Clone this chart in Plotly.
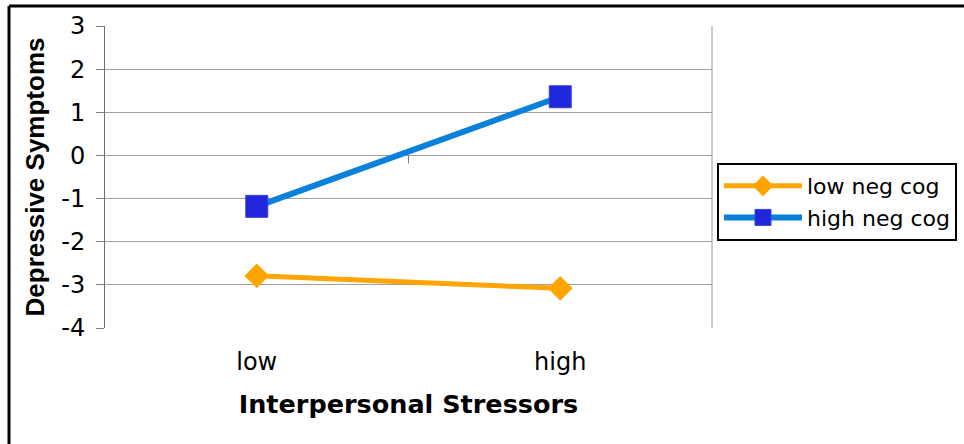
import plotly.graph_objects as go

# Category axis and the two moderator groups
stressors = ["low", "high"]
low_neg_cog = [-2.79, -3.08]
high_neg_cog = [-1.18, 1.36]
y_ticks = [3, 2, 1, 0, -1, -2, -3, -4]

FONT = "DejaVu Sans, Liberation Sans, sans-serif"
FONT_NARROW = "Liberation Sans, Arial, sans-serif"
W, H = 964, 444
L, R, T, B = 105, 252, 26, 116
PW, PH = W - L - R, H - T - B

fig = go.Figure()

fig.add_trace(go.Scatter(
    x=stressors, y=low_neg_cog, name="low neg cog",
    mode="lines+markers",
    line=dict(color="#FFA500", width=5),
    marker=dict(symbol="diamond", size=19, color="#FFA500"),
))
fig.add_trace(go.Scatter(
    x=stressors, y=high_neg_cog, name="high neg cog",
    mode="lines+markers",
    line=dict(color="#0A80DA", width=6),
    marker=dict(symbol="square", size=22, color="#2027DA",
                line=dict(color="#3a40e0", width=1)),
))


def px_x(p):
    return (p - L) / PW


def px_y(p):
    return (H - B - p) / PH


shapes = [
    # outer black frame of the chart object (runs past the right and bottom edges)
    dict(type="line", xref="paper", yref="paper",
         x0=px_x(9), x1=px_x(1100), y0=px_y(6), y1=px_y(6),
         line=dict(color="black", width=3)),
    dict(type="line", xref="paper", yref="paper",
         x0=px_x(9), x1=px_x(9), y0=px_y(6), y1=px_y(600),
         line=dict(color="black", width=3)),
    # right border of the plot area
    dict(type="line", xref="paper", yref="paper",
         x0=1, x1=1, y0=0, y1=1, line=dict(color="#9a9a9a", width=1)),
    # category divider tick on the horizontal axis (crosses at 0)
    dict(type="line", xref="x", yref="y", x0=0.5, x1=0.5,
         ysizemode="pixel", yanchor=0, y0=0, y1=-8,
         line=dict(color="#808080", width=1)),
]

fig.update_layout(
    width=W, height=H,
    margin=dict(l=L, r=R, t=T, b=B, autoexpand=False),
    paper_bgcolor="white", plot_bgcolor="white",
    font=dict(family=FONT, color="black"),
    showlegend=True,
    legend=dict(
        x=px_x(717), y=px_y(163), xanchor="left", yanchor="top",
        bordercolor="black", borderwidth=2, bgcolor="white",
        font=dict(size=22, family=FONT),
        itemwidth=78, tracegroupgap=0,
    ),
    shapes=shapes,
)

fig.update_xaxes(
    type="category", range=[-0.5, 1.5],
    showgrid=False, zeroline=False, showline=False,
    ticks="", tickfont=dict(size=24),
    ticklabelstandoff=17,
    title=dict(text="<b>Interpersonal Stressors</b>", font=dict(size=25.5), standoff=20),
)

fig.update_yaxes(
    range=[-4, 3], tickvals=y_ticks, ticktext=[str(v) for v in y_ticks],
    showgrid=True, gridcolor="#a0a0a0", gridwidth=1,
    zeroline=False, showline=True, linecolor="#707070", linewidth=1,
    ticks="outside", ticklen=8, tickcolor="#808080",
    tickfont=dict(size=24), ticklabelstandoff=6,
    title=dict(text="<b>Depressive Symptoms</b>",
               font=dict(size=26, family=FONT_NARROW), standoff=9),
)

fig.write_html("out.html")
